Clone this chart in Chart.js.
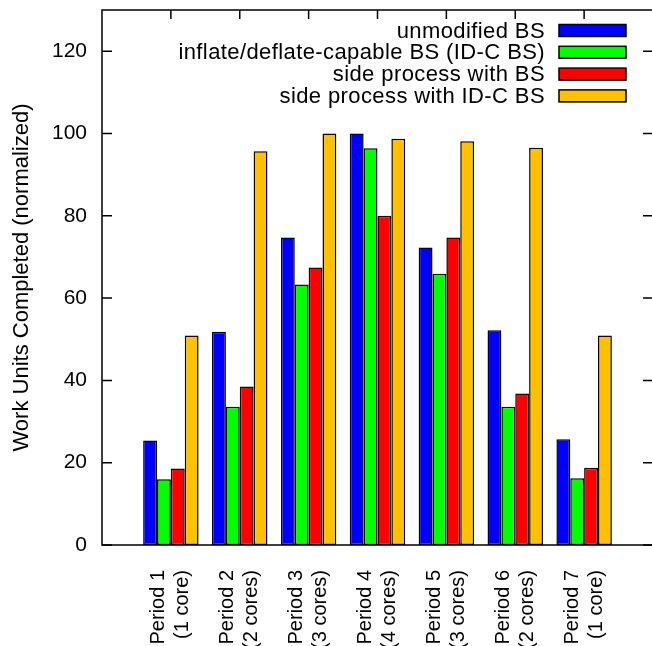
<!DOCTYPE html>
<html>
<head>
<meta charset="utf-8">
<script src="https://cdn.jsdelivr.net/npm/chart.js@4/dist/chart.umd.min.js"></script>
<style>
  html, body { margin: 0; padding: 0; background: #fff; overflow: hidden; }
  #wrap { width: 662px; height: 700px; }
</style>
</head>
<body>
<div id="wrap"><canvas id="chart" width="662" height="700"></canvas></div>
<script>
/* ── DATA ── */
const periods = [
  ['Period 1', '(1 core)'],
  ['Period 2', '(2 cores)'],
  ['Period 3', '(3 cores)'],
  ['Period 4', '(4 cores)'],
  ['Period 5', '(3 cores)'],
  ['Period 6', '(2 cores)'],
  ['Period 7', '(1 core)']
];
const seriesNames = [
  'unmodified BS',
  'inflate/deflate-capable BS (ID-C BS)',
  'side process with BS',
  'side process with ID-C BS'
];
const unmodifiedBS = [25.4, 51.8, 74.7, 100.0, 72.3, 52.2, 25.7];
const idcBS        = [16.0, 33.6, 63.3, 96.4, 65.9, 33.6, 16.2];
const sideBS       = [18.6, 38.5, 67.4, 80.0, 74.7, 36.8, 18.8];
const sideIdcBS    = [50.9, 95.7, 100.0, 98.7, 98.1, 96.5, 50.9];
const yTicks = [0, 20, 40, 60, 80, 100, 120];

const colors = ['#0000ff', '#00ff00', '#ff0000', '#ffc000'];

// x range runs from -1 to 7 like the original, so pad one empty slot on each side
const pad = arr => [null, ...arr, null];
const labels = ['', ...periods, ''];

/* ── PLOT LAYOUT ── */
const AREA_LEFT   = 102;
const AREA_TOP    = 10;
const AREA_BOTTOM = 545;
const CANVAS_H    = 700;

/* ── FRAME + INWARD TICKS + KEY ── */
const framePlugin = {
  id: 'frame',
  afterDraw(chart) {
    const { ctx, chartArea: a } = chart;
    const y = chart.scales.y;
    const x = chart.scales.x;
    ctx.save();
    ctx.strokeStyle = '#000';
    ctx.lineWidth = 1.5;
    ctx.strokeRect(a.left, a.top, a.right - a.left, a.bottom - a.top);

    ctx.beginPath();
    yTicks.forEach(v => {
      const py = y.getPixelForValue(v);
      ctx.moveTo(a.left, py);  ctx.lineTo(a.left + 10, py);
      ctx.moveTo(a.right, py); ctx.lineTo(a.right - 10, py);
    });
    for (let i = 1; i <= periods.length; i++) {
      const px = x.getPixelForValue(i);
      ctx.moveTo(px, a.top); ctx.lineTo(px, a.top + 9);
    }
    ctx.stroke();

    // key: right aligned text, coloured box after it
    ctx.font = '22px "Liberation Sans", Arial, sans-serif';
    ctx.letterSpacing = '0.4px';
    ctx.textAlign = 'right';
    ctx.textBaseline = 'middle';
    chart.data.datasets.forEach((ds, i) => {
      const cy = a.top + 20.5 + i * 21.8;
      ctx.fillStyle = '#000';
      ctx.fillText(ds.label, a.right - 108, cy + 1);
      ctx.fillStyle = ds.backgroundColor;
      ctx.fillRect(a.right - 94, cy - 6, 67, 12);
      ctx.strokeRect(a.right - 94, cy - 6, 67, 12);
    });
    ctx.restore();
  }
};

const makeSet = (label, data, color) => ({
  label,
  data: pad(data),
  backgroundColor: color,
  borderColor: '#000',
  borderWidth: 1.5,
  borderSkipped: false,
  categoryPercentage: 0.805,
  barPercentage: 1.0
});

Chart.defaults.color = '#000';
Chart.defaults.font.family = '"Liberation Sans", Arial, Helvetica, sans-serif';

new Chart(document.getElementById('chart').getContext('2d'), {
  type: 'bar',
  plugins: [framePlugin],
  data: {
    labels,
    datasets: [
      makeSet(seriesNames[0], unmodifiedBS, colors[0]),
      makeSet(seriesNames[1], idcBS,        colors[1]),
      makeSet(seriesNames[2], sideBS,       colors[2]),
      makeSet(seriesNames[3], sideIdcBS,    colors[3])
    ]
  },
  options: {
    responsive: false,
    animation: false,
    devicePixelRatio: 1,
    layout: { padding: { left: 0, top: AREA_TOP, right: 9, bottom: 0 } },
    plugins: {
      legend: { display: false },
      tooltip: { enabled: false }
    },
    scales: {
      x: {
        offset: false,
        grid: { display: false, drawTicks: false },
        border: { display: false },
        ticks: {
          autoSkip: false,
          minRotation: 90,
          maxRotation: 90,
          padding: 25,
          labelOffset: -12,
          font: { size: 20, lineHeight: 1.2 }
        },
        afterFit(scale) {
          scale.height = CANVAS_H - AREA_BOTTOM;
          scale.paddingLeft = 0;
          scale.paddingRight = 0;
        }
      },
      y: {
        min: 0,
        max: 130,
        grid: { display: false, drawTicks: false },
        border: { display: false },
        ticks: {
          stepSize: 20,
          includeBounds: false,
          padding: 15,
          font: { size: 21 }
        },
        title: {
          display: true,
          text: 'Work Units Completed (normalized)',
          font: { size: 22 },
          padding: { top: 9, bottom: 0 }
        },
        afterFit(scale) {
          scale.width = AREA_LEFT;
          scale.paddingTop = 0;
          scale.paddingBottom = 0;
        }
      }
    }
  }
});
</script>
</body>
</html>
